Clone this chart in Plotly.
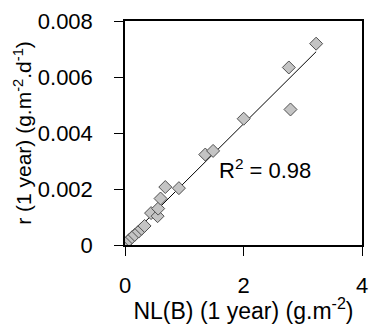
import numpy as np
import plotly.graph_objects as go

# Data
nl_b = [0.03, 0.07, 0.12, 0.165, 0.23, 0.28, 0.33, 0.44, 0.55, 0.56, 0.60, 0.68, 0.91,
        1.355, 1.487, 2.003, 2.765, 2.793, 3.226]
r_vals = [0.00008, 0.00018, 0.00028, 0.00036, 0.00048, 0.00058, 0.00068, 0.00114, 0.00103,
          0.00130, 0.00166, 0.00207, 0.00203, 0.00323, 0.00336, 0.00451, 0.00634, 0.00484, 0.00719]
r2_label = "R<sup>2</sup> = 0.98"
x_ticks = [0, 2, 4]
y_ticks = [0, 0.002, 0.004, 0.006, 0.008]
y_tick_text = ["0", "0.002", "0.004", "0.006", "0.008"]

slope, intercept = np.polyfit(nl_b, r_vals, 1)
x_fit = np.array([0.0, max(nl_b)])
y_fit = slope * x_fit + intercept

font = "Liberation Sans, Arial, sans-serif"
fig = go.Figure()
fig.add_trace(go.Scatter(x=x_fit, y=y_fit, mode="lines",
                         line=dict(color="black", width=1), showlegend=False))
fig.add_trace(go.Scatter(x=nl_b, y=r_vals, mode="markers",
                         marker=dict(symbol="diamond", size=10, color="#c4c4c4",
                                     line=dict(color="#505050", width=1)),
                         showlegend=False))
fig.add_annotation(x=1.56, y=0.00272, xanchor="left", yanchor="middle", text=r2_label,
                   showarrow=False, font=dict(size=22, color="black", family=font))

fig.update_layout(
    width=372, height=324,
    margin=dict(l=125, r=4, t=21, b=77),
    paper_bgcolor="white", plot_bgcolor="white",
    font=dict(family=font, size=20, color="black"),
    xaxis=dict(range=[0, 4], tickvals=x_ticks, ticktext=[str(v) for v in x_ticks],
               showgrid=False, zeroline=False, showline=True, linecolor="black",
               linewidth=1.5, mirror=True, ticks="outside", ticklen=9, tickcolor="black",
               ticklabeloverflow="allow", ticklabelstandoff=11,
               title=dict(text="NL(B) (1 year) (g.m<sup>-2</sup>)", standoff=6,
                          font=dict(size=23)),
               tickfont=dict(size=22)),
    yaxis=dict(range=[0, 0.008], tickvals=y_ticks, ticktext=y_tick_text,
               showgrid=False, zeroline=False, showline=True, linecolor="black",
               linewidth=1.5, mirror=True, ticks="outside", ticklen=9, tickcolor="black",
               ticklabeloverflow="allow", ticklabelstandoff=17,
               title=dict(text="r (1 year) (g.m<sup>-2</sup>.d<sup>-1</sup>)", standoff=0,
                          font=dict(size=21)),
               tickfont=dict(size=22)),
)
fig.write_html("out.html", config={"displayModeBar": False},
               post_script="document.body.style.margin='0';")
